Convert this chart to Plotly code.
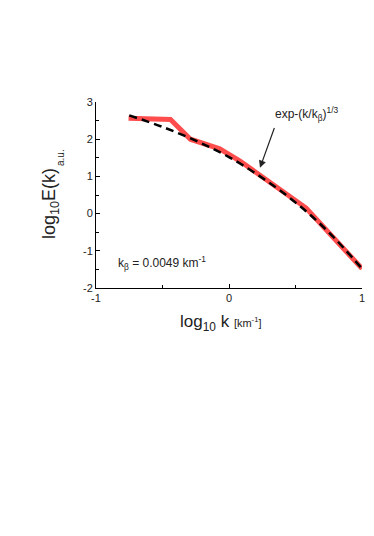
import plotly.graph_objects as go

# Observed spectrum (red)
obs_log_k = [-0.755, -0.44, -0.29, -0.07, 0.08, 0.30, 0.58, 1.0]
obs_log_E = [2.56, 2.53, 2.00, 1.74, 1.42, 0.85, 0.15, -1.48]

# Stretched-exponential fit (black dashed)
fit_log_k = [-0.75, -0.5, -0.25, 0.0, 0.25, 0.5, 0.75, 1.0]
fit_log_E = [2.64, 2.33, 1.96, 1.52, 0.96, 0.30, -0.50, -1.48]

x_ticks = [-1, 0, 1]
y_ticks = [-2, -1, 0, 1, 2, 3]

FONT = "Liberation Sans, Arial, sans-serif"
W, H = 374, 536
OFF = 8  # page body margin
L, R, T, B = 96 - OFF, W - (362 - OFF), 102 - OFF, H - (288 - OFF)

fig = go.Figure()
fig.add_trace(go.Scatter(x=obs_log_k, y=obs_log_E, mode="lines",
                         line=dict(color="#ff4d4d", width=5), hoverinfo="skip"))
fig.add_trace(go.Scatter(x=fit_log_k, y=fit_log_E, mode="lines",
                         line=dict(color="black", width=2.5, dash="8px,5px", shape="spline"),
                         hoverinfo="skip"))

axis_common = dict(showgrid=False, zeroline=False, showline=True, linecolor="black", linewidth=1,
                   ticks="inside", ticklen=4, tickcolor="black",
                   minor=dict(dtick=0.5, ticks="inside", ticklen=3, tickcolor="black", showgrid=False),
                   tickfont=dict(size=11, family=FONT, color="#222"))

fig.update_layout(
    width=W, height=H,
    margin=dict(l=L, r=R, t=T, b=B),
    paper_bgcolor="white", plot_bgcolor="white",
    showlegend=False,
    font=dict(family=FONT, color="#222", size=11),
    xaxis=dict(range=[-1, 1], tickvals=x_ticks, ticktext=[str(v) for v in x_ticks], **axis_common),
    yaxis=dict(range=[-2, 3], tickvals=y_ticks, ticktext=[str(v) for v in y_ticks], **axis_common),
)


def px(xp):
    return (xp - OFF - L) / (W - L - R)


def py(yp):
    return (H - B - (yp - OFF)) / (H - T - B)


def label(xp, yp, text, size, angle=0):
    fig.add_annotation(x=px(xp), y=py(yp), xref="paper", yref="paper",
                       xanchor="center", yanchor="middle",
                       showarrow=False, text=text, textangle=angle,
                       font=dict(size=size, family=FONT, color="#222"))


label(50, 204, "log<sub>10</sub>E(k)", 18, -90)
label(60, 158, "a.u.", 10, -90)
label(221, 323, "log<sub>10</sub> k <span style='font-size:11px'>[km<sup>-1</sup>]</span>", 17)
label(307, 114, "exp-(k/k<sub>β</sub>)<sup>1/3</sup>", 12)
label(162, 263, "k<sub>β</sub> = 0.0049 km<sup>-1</sup>", 12)

fig.add_annotation(x=0.233, y=1.23, xref="x", yref="y",
                   ax=0.345, ay=2.34, axref="x", ayref="y",
                   showarrow=True, arrowhead=2, arrowsize=1.2, arrowwidth=1.2,
                   arrowcolor="#222", text="")

fig.write_html("out.html")
